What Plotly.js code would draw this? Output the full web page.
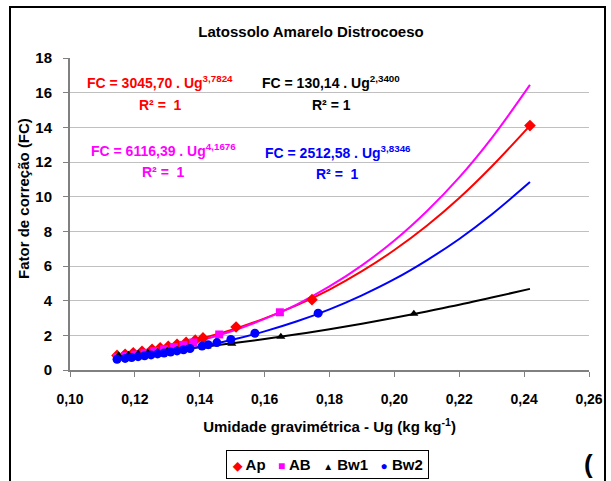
<!DOCTYPE html>
<html>
<head>
<meta charset="utf-8">
<script src="https://cdn.plot.ly/plotly-3.0.1.min.js"></script>
<style>
html,body{margin:0;padding:0;background:#fff;}
#chart{width:611px;height:481px;}
</style>
</head>
<body>
<div id="chart"></div>
<script>
// Marker data
const apUg  = [0.1145, 0.117, 0.1195, 0.1222, 0.1253, 0.1278, 0.1303, 0.133, 0.1358, 0.1386, 0.141, 0.1512, 0.1746, 0.2418];
const apFC  = [0.84, 0.91, 0.99, 1.08, 1.19, 1.28, 1.37, 1.48, 1.60, 1.72, 1.85, 2.48, 4.06, 14.10];
const abUg  = [0.1145, 0.117, 0.120, 0.123, 0.126, 0.129, 0.132, 0.135, 0.138, 0.146, 0.1647];
const abFC  = [0.73, 0.80, 0.89, 0.99, 1.09, 1.20, 1.32, 1.45, 1.59, 2.05, 3.33];
const bw1Ug = [0.115, 0.118, 0.121, 0.124, 0.127, 0.130, 0.133, 0.136, 0.1422, 0.1499, 0.165, 0.206];
const bw1FC = [0.83, 0.88, 0.94, 1.00, 1.05, 1.11, 1.17, 1.23, 1.35, 1.52, 1.92, 3.24];
const bw2Ug = [0.1145, 0.117, 0.119, 0.121, 0.123, 0.125, 0.127, 0.129, 0.131, 0.133, 0.135, 0.137, 0.1407, 0.1426, 0.1453, 0.1496, 0.157, 0.1765];
const bw2FC = [0.62, 0.67, 0.72, 0.77, 0.82, 0.87, 0.93, 0.98, 1.04, 1.10, 1.17, 1.24, 1.38, 1.46, 1.58, 1.76, 2.12, 3.28];

// Trend-line curves
const curveUg = [0.1145, 0.12, 0.13, 0.14, 0.15, 0.16, 0.17, 0.18, 0.19, 0.20, 0.21, 0.22, 0.23, 0.2418];
const apCurve  = [0.84, 1.00, 1.36, 1.80, 2.33, 2.98, 3.74, 4.64, 5.70, 6.92, 8.32, 9.92, 11.74, 14.10];
const abCurve  = [0.73, 0.89, 1.24, 1.69, 2.25, 2.95, 3.79, 4.82, 6.04, 7.47, 9.16, 11.11, 13.38, 16.45];
const bw1Curve = [0.82, 0.91, 1.10, 1.31, 1.54, 1.79, 2.06, 2.35, 2.67, 3.01, 3.38, 3.76, 4.18, 4.68];
const bw2Curve = [0.62, 0.74, 1.01, 1.34, 1.74, 2.23, 2.81, 3.50, 4.31, 5.24, 6.33, 7.56, 8.97, 10.84];

const names = ["Ap", "AB", "Bw1", "Bw2"];
const colors = ["#ff0000", "#ff00ff", "#000000", "#0000ff"];
const symbols = ["diamond", "square", "triangle-up", "circle"];
const glyphs = ["◆", "■", "▲", "●"];
const sizes = [9, 8, 8, 9];

const xTickVals = [0.10, 0.12, 0.14, 0.16, 0.18, 0.20, 0.22, 0.24, 0.26];
const xTickText = ["0,10", "0,12", "0,14", "0,16", "0,18", "0,20", "0,22", "0,24", "0,26"];
const yTickVals = [0, 2, 4, 6, 8, 10, 12, 14, 16, 18];

const FONT = "Liberation Sans, Arial, sans-serif";

const markerX = [apUg, abUg, bw1Ug, bw2Ug];
const markerY = [apFC, abFC, bw1FC, bw2FC];
const curveY = [apCurve, abCurve, bw1Curve, bw2Curve];

const traces = [];
for (let i = 0; i < 4; i++) {
  traces.push({
    x: curveUg, y: curveY[i], mode: "lines", type: "scatter", name: names[i] + " ajuste",
    line: {color: colors[i], width: 2, shape: "spline"},
    showlegend: false, hoverinfo: "skip"
  });
}
for (let i = 0; i < 4; i++) {
  traces.push({
    x: markerX[i], y: markerY[i], mode: "markers", type: "scatter", name: names[i],
    marker: {color: colors[i], symbol: symbols[i], size: sizes[i], line: {width: 0}},
    showlegend: false
  });
}

// pixel -> paper conversion (plot area: x 70..589, y 58..370)
const px = v => (v - 70) / 519;
const py = v => (370 - v) / 312;

const eq = [
  {text: "<b>FC = 3045,70 . Ug<sup>3,7824</sup></b>", x: 160, y: 82, c: colors[0]},
  {text: "<b>R² =  1</b>", x: 160, y: 105, c: colors[0]},
  {text: "<b>FC = 130,14 . Ug<sup>2,3400</sup></b>", x: 331, y: 82, c: colors[2]},
  {text: "<b>R² = 1</b>", x: 331, y: 105, c: colors[2]},
  {text: "<b>FC = 6116,39 . Ug<sup>4,1676</sup></b>", x: 163, y: 150, c: colors[1]},
  {text: "<b>R² =  1</b>", x: 163, y: 172, c: colors[1]},
  {text: "<b>FC = 2512,58 . Ug<sup>3,8346</sup></b>", x: 338, y: 152, c: colors[3]},
  {text: "<b>R² =  1</b>", x: 337, y: 174, c: colors[3]}
];

const annotations = eq.map(e => ({
  text: e.text, xref: "paper", yref: "paper", x: px(e.x), y: py(e.y),
  xanchor: "center", yanchor: "middle", showarrow: false,
  font: {family: FONT, size: 14, color: e.c}
}));

// y-axis title (placed as in the reference, slightly above the plot centre)
annotations.push({
  text: "<b>Fator de correção (FC)</b>", xref: "paper", yref: "paper", x: px(24), y: py(199),
  xanchor: "center", yanchor: "middle", textangle: -90, showarrow: false,
  font: {family: FONT, size: 15, color: "#000"}
});

// legend (compact, as in the reference)
const legendText = names.map((n, i) =>
  "<span style='color:" + colors[i] + ";font-size:" + (i === 2 ? 10 : 12) + "px'>" + glyphs[i] + "</span> " + n
).join("   ");
annotations.push({
  text: "<b>" + legendText + "</b>", xref: "paper", yref: "paper", x: px(327.5), y: py(464),
  xanchor: "center", yanchor: "middle", showarrow: false,
  bordercolor: "#000", borderwidth: 1, borderpad: 5, bgcolor: "#fff",
  font: {family: FONT, size: 15, color: "#000"}
});
annotations.push({
  text: "<b>(</b>", xref: "paper", yref: "paper", x: px(588), y: py(464),
  xanchor: "center", yanchor: "middle", showarrow: false,
  font: {family: FONT, size: 26, color: "#000"}
});

const layout = {
  width: 611, height: 481,
  margin: {l: 70, r: 22, t: 58, b: 111, pad: 0, autoexpand: false},
  paper_bgcolor: "#ffffff", plot_bgcolor: "#ffffff",
  title: {text: "<b>Latossolo Amarelo Distrocoeso</b>", x: px(311), xref: "paper", xanchor: "center",
          y: 1 - 32 / 481, yanchor: "middle", font: {family: FONT, size: 15, color: "#000"}},
  font: {family: FONT, color: "#000"},
  xaxis: {
    range: [0.10, 0.26], tickvals: xTickVals, ticktext: xTickText, automargin: false,
    showgrid: false, zeroline: false, showline: true, linecolor: "#808080", linewidth: 2,
    ticks: "outside", ticklen: 5, tickcolor: "#808080", tickwidth: 1,
    tickfont: {family: FONT, size: 14, color: "#000", weight: "bold"},
    ticklabelstandoff: 10,
    title: {text: "<b>Umidade gravimétrica - Ug (kg kg<sup>-1</sup>)</b>", font: {family: FONT, size: 15, color: "#000"}, standoff: 16}
  },
  yaxis: {
    range: [0, 18], tickvals: yTickVals, automargin: false,
    showgrid: true, gridcolor: "#c0c0c0", gridwidth: 1, zeroline: false,
    showline: true, linecolor: "#808080", linewidth: 2,
    ticks: "outside", ticklen: 5, tickcolor: "#808080", tickwidth: 1,
    tickfont: {family: FONT, size: 15, color: "#000", weight: "bold"},
    ticklabelstandoff: 8
  },
  annotations: annotations,
  shapes: [{
    type: "rect", xref: "paper", yref: "paper",
    x0: px(10), x1: px(605), y0: py(490), y1: py(7),
    line: {color: "#000", width: 2}, fillcolor: "rgba(0,0,0,0)", layer: "above"
  }],
  showlegend: false
};

Plotly.newPlot("chart", traces, layout, {displayModeBar: false, staticPlot: true});
</script>
</body>
</html>
